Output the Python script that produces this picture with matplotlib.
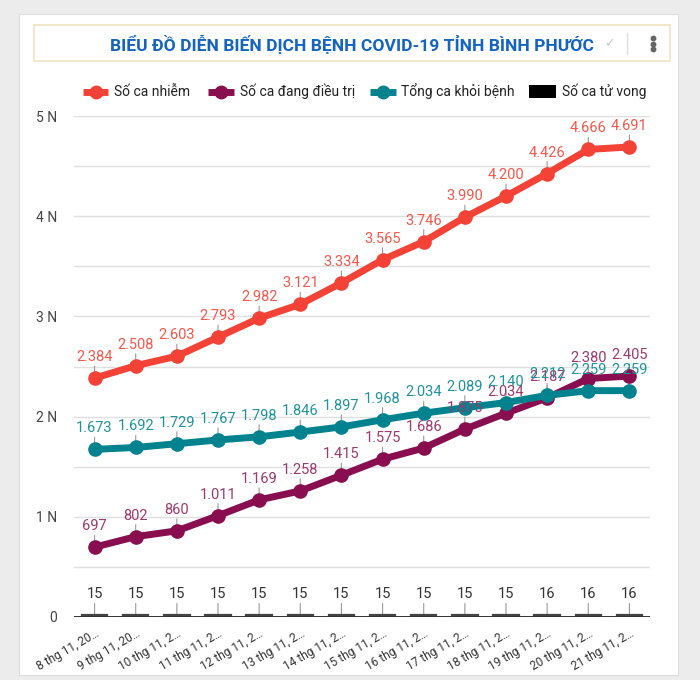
import matplotlib
matplotlib.use("Agg")
import matplotlib.pyplot as plt
from matplotlib.patches import Rectangle, FancyBboxPatch
from matplotlib.lines import Line2D

plt.rcParams['font.family'] = ['Roboto', 'DejaVu Sans']

# ---------------- data ----------------
dates = ["8 thg 11, 20…", "9 thg 11, 20…", "10 thg 11, 2…", "11 thg 11, 2…",
         "12 thg 11, 2…", "13 thg 11, 2…", "14 thg 11, 2…", "15 thg 11, 2…",
         "16 thg 11, 2…", "17 thg 11, 2…", "18 thg 11, 2…", "19 thg 11, 2…",
         "20 thg 11, 2…", "21 thg 11, 2…"]
so_ca_nhiem = [2384, 2508, 2603, 2793, 2982, 3121, 3334, 3565, 3746, 3990, 4200, 4426, 4666, 4691]
dang_dieu_tri = [697, 802, 860, 1011, 1169, 1258, 1415, 1575, 1686, 1875, 2034, 2187, 2380, 2405]
khoi_benh = [1673, 1692, 1729, 1767, 1798, 1846, 1897, 1968, 2034, 2089, 2140, 2212, 2259, 2259]
tu_vong = [15, 15, 15, 15, 15, 15, 15, 15, 15, 15, 15, 16, 16, 16]
y_ticks = [0, 1000, 2000, 3000, 4000, 5000]
y_ticklabels = ["0", "1 N", "2 N", "3 N", "4 N", "5 N"]
series_names = ["Số ca nhiễm", "Số ca đang điều trị", "Tổng ca khỏi bệnh", "Số ca tử vong"]
title = "BIỂU ĐỒ DIỄN BIẾN DỊCH BỆNH COVID-19 TỈNH BÌNH PHƯỚC"

W, H = 700, 680
def fx(x): return x / W
def fy(y): return 1 - y / H

RED, RED_L = "#f44336", "#f5574b"
PUR, PUR_L = "#880e4f", "#9b3a6c"
TEAL, TEAL_L = "#00838f", "#1e939c"

fig = plt.figure(figsize=(7, 6.8), dpi=100, facecolor="#ececec")

# card
fig.patches.append(Rectangle((fx(19), fy(675)), fx(678) - fx(19), fy(14) - fy(675),
                             transform=fig.transFigure, facecolor="white",
                             edgecolor="#dddddd", lw=0.8, zorder=-10))
# title box
fig.patches.append(FancyBboxPatch((fx(34), fy(61)), fx(670) - fx(34), fy(25) - fy(61),
                                  boxstyle="square,pad=0", transform=fig.transFigure,
                                  facecolor="white", edgecolor="#f1e3c2", lw=1.2, zorder=-5))
fig.text(fx(352), fy(44), title, ha="center", va="center", color="#1565c0",
         fontsize=12.6, fontweight="bold")
fig.text(fx(609), fy(44), "✓", ha="center", va="center", color="#c8c8c8", fontsize=9,
         family=["DejaVu Sans"])
fig.add_artist(Line2D([fx(627), fx(627)], [fy(33), fy(54)], transform=fig.transFigure,
                      color="#dddddd", lw=1))
for yy in (38, 43.5, 49):
    fig.add_artist(Line2D([fx(653)], [fy(yy)], transform=fig.transFigure, marker="o",
                          markersize=3.2, color="#666666", lw=0))

# legend
leg_items = [(83, 108, 114, RED), (208, 234, 240, PUR), (370, 396, 401, TEAL)]
for (x0, x1, xt, c), name in zip(leg_items, series_names[:3]):
    fig.add_artist(Line2D([fx(x0), fx(x1)], [fy(91.5), fy(91.5)], transform=fig.transFigure,
                          color=c, lw=5, solid_capstyle="butt"))
    fig.add_artist(Line2D([fx((x0 + x1) / 2)], [fy(91.5)], transform=fig.transFigure,
                          marker="o", markersize=9, color=c, lw=0))
    fig.text(fx(xt), fy(91.5), name, ha="left", va="center", fontsize=10, color="#222222")
fig.patches.append(Rectangle((fx(529), fy(98)), fx(556) - fx(529), fy(85) - fy(98),
                             transform=fig.transFigure, facecolor="black", edgecolor="none"))
fig.text(fx(562), fy(91.5), series_names[3], ha="left", va="center", fontsize=10, color="#222222")

# axes
ax = fig.add_axes([fx(74), fy(617), fx(650) - fx(74), fy(116) - fy(617)], zorder=2)
ax.set_facecolor("none")
x = list(range(len(dates)))
ax.set_xlim(-0.5, len(dates) - 0.5)
ax.set_ylim(0, 5000)
for gy in range(500, 5001, 500):
    ax.axhline(gy, color="#e0e0e0", lw=1, zorder=0)
ax.axhline(0, color="#333333", lw=1.4, zorder=4)
for s in ax.spines.values():
    s.set_visible(False)
ax.set_yticks(y_ticks)
ax.set_yticklabels(y_ticklabels, fontsize=10, color="#444444")
ax.tick_params(axis="y", length=0, pad=12)
ax.set_xticks(x)
ax.set_xticklabels(dates, rotation=30, ha="right", rotation_mode="anchor",
                   fontsize=8.6, color="#333333")
ax.tick_params(axis="x", length=0, pad=7)

# death bars
ax.bar(x, tu_vong, width=0.62, color="black", edgecolor="#444444", lw=1.6, zorder=3)

series = [(so_ca_nhiem, RED, RED_L), (dang_dieu_tri, PUR, PUR_L), (khoi_benh, TEAL, TEAL_L)]
for vals, c, cl in series:
    ax.plot(x, vals, color=c, lw=5, marker="o", markersize=9.5, zorder=5,
            solid_joinstyle="round", clip_on=False)

def fmt(v):
    return f"{v:,}".replace(",", ".")

for vals, c, cl in series + [(tu_vong, "black", "#333333")]:
    for i, v in zip(x, vals):
        ax.annotate("", xy=(i, v), xycoords="data", xytext=(0, 12), textcoords="offset pixels",
                    arrowprops=dict(arrowstyle="-", color="#999999", lw=0.8,
                                    shrinkA=0, shrinkB=0), zorder=2, annotation_clip=False)
        ax.annotate(fmt(v), xy=(i, v), xycoords="data", xytext=(0, 14),
                    textcoords="offset pixels", ha="center", va="bottom",
                    fontsize=10.5, color=cl, zorder=6, annotation_clip=False)

fig.savefig("out.png", dpi=100, facecolor=fig.get_facecolor())
